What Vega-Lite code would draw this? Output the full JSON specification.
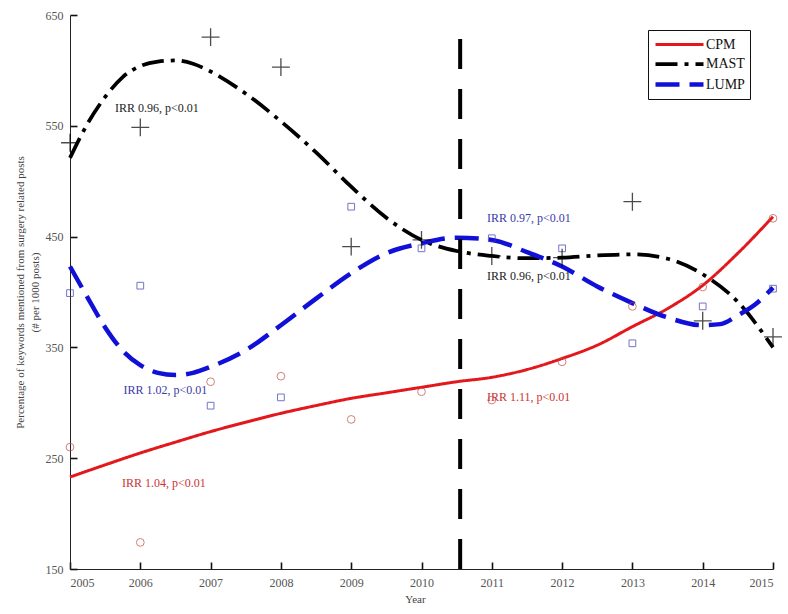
{
  "$schema": "https://vega.github.io/schema/vega-lite/v6.json",
  "width": 703,
  "height": 554,
  "autosize": "none",
  "padding": {"left": 70, "top": 15, "right": 15, "bottom": 45},
  "background": "white",
  "config": {
    "view": {"stroke": null},
    "font": "Liberation Serif",
    "axis": {"grid": false, "ticks": true, "domainColor": "#222", "tickColor": "#111", "tickWidth": 1.6, "labelColor": "#555", "labelFont": "Liberation Serif", "labelFontSize": 12, "titleFont": "Liberation Serif", "titleFontWeight": "normal", "titleFontSize": 11, "titleColor": "#444"}
  },
  "datasets": {
    "fit": [
      {"series": "CPM", "year": 2005, "value": 233}, {"series": "CPM", "year": 2005.5, "value": 244}, {"series": "CPM", "year": 2006, "value": 254.7}, {"series": "CPM", "year": 2006.5, "value": 264.5}, {"series": "CPM", "year": 2007, "value": 274}, {"series": "CPM", "year": 2007.5, "value": 282.5}, {"series": "CPM", "year": 2008, "value": 290.5}, {"series": "CPM", "year": 2008.5, "value": 297.5}, {"series": "CPM", "year": 2009, "value": 304}, {"series": "CPM", "year": 2009.5, "value": 309}, {"series": "CPM", "year": 2010, "value": 314}, {"series": "CPM", "year": 2010.5, "value": 319}, {"series": "CPM", "year": 2011, "value": 323}, {"series": "CPM", "year": 2011.5, "value": 330}, {"series": "CPM", "year": 2012, "value": 340}, {"series": "CPM", "year": 2012.5, "value": 352}, {"series": "CPM", "year": 2013, "value": 368.7}, {"series": "CPM", "year": 2013.5, "value": 385}, {"series": "CPM", "year": 2014, "value": 406}, {"series": "CPM", "year": 2014.5, "value": 435}, {"series": "CPM", "year": 2015, "value": 468},
      {"series": "MAST", "year": 2005, "value": 521}, {"series": "MAST", "year": 2005.25, "value": 552}, {"series": "MAST", "year": 2005.5, "value": 576}, {"series": "MAST", "year": 2005.75, "value": 594}, {"series": "MAST", "year": 2006, "value": 604}, {"series": "MAST", "year": 2006.25, "value": 608}, {"series": "MAST", "year": 2006.5, "value": 609}, {"series": "MAST", "year": 2006.75, "value": 606}, {"series": "MAST", "year": 2007, "value": 599}, {"series": "MAST", "year": 2007.5, "value": 579}, {"series": "MAST", "year": 2008, "value": 554}, {"series": "MAST", "year": 2008.5, "value": 526}, {"series": "MAST", "year": 2009, "value": 495}, {"series": "MAST", "year": 2009.5, "value": 467}, {"series": "MAST", "year": 2010, "value": 447}, {"series": "MAST", "year": 2010.5, "value": 437}, {"series": "MAST", "year": 2011, "value": 432.5}, {"series": "MAST", "year": 2011.5, "value": 430.5}, {"series": "MAST", "year": 2012, "value": 431}, {"series": "MAST", "year": 2012.5, "value": 433}, {"series": "MAST", "year": 2013, "value": 434}, {"series": "MAST", "year": 2013.5, "value": 430}, {"series": "MAST", "year": 2014, "value": 416}, {"series": "MAST", "year": 2014.5, "value": 391}, {"series": "MAST", "year": 2015, "value": 350},
      {"series": "LUMP", "year": 2005, "value": 423}, {"series": "LUMP", "year": 2005.25, "value": 395}, {"series": "LUMP", "year": 2005.5, "value": 368}, {"series": "LUMP", "year": 2005.75, "value": 347}, {"series": "LUMP", "year": 2006, "value": 334}, {"series": "LUMP", "year": 2006.25, "value": 327}, {"series": "LUMP", "year": 2006.5, "value": 325}, {"series": "LUMP", "year": 2006.75, "value": 327}, {"series": "LUMP", "year": 2007, "value": 332.5}, {"series": "LUMP", "year": 2007.5, "value": 347.5}, {"series": "LUMP", "year": 2008, "value": 370}, {"series": "LUMP", "year": 2008.5, "value": 394}, {"series": "LUMP", "year": 2009, "value": 417}, {"series": "LUMP", "year": 2009.5, "value": 435}, {"series": "LUMP", "year": 2010, "value": 444}, {"series": "LUMP", "year": 2010.5, "value": 449}, {"series": "LUMP", "year": 2011, "value": 447}, {"series": "LUMP", "year": 2011.5, "value": 436}, {"series": "LUMP", "year": 2012, "value": 423}, {"series": "LUMP", "year": 2012.5, "value": 405}, {"series": "LUMP", "year": 2013, "value": 390}, {"series": "LUMP", "year": 2013.5, "value": 377}, {"series": "LUMP", "year": 2014, "value": 370}, {"series": "LUMP", "year": 2014.25, "value": 371}, {"series": "LUMP", "year": 2014.5, "value": 379}, {"series": "LUMP", "year": 2014.75, "value": 389}, {"series": "LUMP", "year": 2015, "value": 404}
    ],
    "obs": [
      {"series": "CPM", "year": 2005, "value": 260}, {"series": "CPM", "year": 2006, "value": 174}, {"series": "CPM", "year": 2007, "value": 319}, {"series": "CPM", "year": 2008, "value": 324}, {"series": "CPM", "year": 2009, "value": 285}, {"series": "CPM", "year": 2010, "value": 310}, {"series": "CPM", "year": 2011, "value": 302.5}, {"series": "CPM", "year": 2012, "value": 337}, {"series": "CPM", "year": 2013, "value": 387}, {"series": "CPM", "year": 2014, "value": 404.5}, {"series": "CPM", "year": 2015, "value": 466.5},
      {"series": "MAST", "year": 2005, "value": 534.7}, {"series": "MAST", "year": 2006, "value": 548.6}, {"series": "MAST", "year": 2007, "value": 630}, {"series": "MAST", "year": 2008, "value": 603}, {"series": "MAST", "year": 2009, "value": 441}, {"series": "MAST", "year": 2010, "value": 447}, {"series": "MAST", "year": 2011, "value": 432.5}, {"series": "MAST", "year": 2012, "value": 431}, {"series": "MAST", "year": 2013, "value": 481.5}, {"series": "MAST", "year": 2014, "value": 374}, {"series": "MAST", "year": 2015, "value": 359.5},
      {"series": "LUMP", "year": 2005, "value": 399}, {"series": "LUMP", "year": 2006, "value": 405.7}, {"series": "LUMP", "year": 2007, "value": 297.4}, {"series": "LUMP", "year": 2008, "value": 304.9}, {"series": "LUMP", "year": 2009, "value": 477}, {"series": "LUMP", "year": 2010, "value": 439.4}, {"series": "LUMP", "year": 2011, "value": 448.5}, {"series": "LUMP", "year": 2012, "value": 439.4}, {"series": "LUMP", "year": 2013, "value": 353.7}, {"series": "LUMP", "year": 2014, "value": 387}, {"series": "LUMP", "year": 2015, "value": 403}
    ],
    "notes": [
      {"series": "MAST", "year": 2005.64, "value": 566, "label": "IRR 0.96, p<0.01"},
      {"series": "LUMP", "year": 2010.93, "value": 466.8, "label": "IRR 0.97, p<0.01"},
      {"series": "MAST", "year": 2010.93, "value": 414, "label": "IRR 0.96, p<0.01"},
      {"series": "LUMP", "year": 2005.76, "value": 311.5, "label": "IRR 1.02, p<0.01"},
      {"series": "CPM", "year": 2005.74, "value": 228, "label": "IRR 1.04, p<0.01"},
      {"series": "CPM", "year": 2010.93, "value": 305.5, "label": "IRR 1.11, p<0.01"}
    ],
    "intervention": [
      {"year": 2010.55, "low": 150, "high": 633}
    ]
  },
  "encoding": {
    "x": {"field": "year", "type": "quantitative", "scale": {"domain": [2005, 2015], "nice": false, "zero": false},
      "axis": {"title": "Year", "values": [2005, 2006, 2007, 2008, 2009, 2010, 2011, 2012, 2013, 2014, 2015], "format": "d", "tickSize": -7, "labelPadding": 15, "titlePadding": 5, "titleX": 345}},
    "y": {"field": "value", "type": "quantitative", "scale": {"domain": [150, 650], "nice": false, "zero": false},
      "axis": {"title": ["Percentage of keywords mentioned from surgery related posts", "(# per 1000 posts)"], "values": [150, 250, 350, 450, 550, 650], "tickSize": -7, "labelPadding": 14, "titlePadding": 5, "titleLineHeight": 15}}
  },
  "layer": [
    {
      "data": {"name": "fit"},
      "mark": {"type": "line", "interpolate": "monotone", "strokeCap": "butt"},
      "encoding": {
        "color": {"field": "series", "type": "nominal", "scale": {"domain": ["CPM", "MAST", "LUMP"], "range": ["#e3181c", "#000000", "#1010d8"]},
          "legend": {"title": null, "orient": "none", "legendX": 578, "legendY": 15, "symbolType": "M-3,0H3", "symbolSize": 256, "symbolOffset": 16, "symbolStrokeWidth": 4, "labelFont": "Liberation Serif", "labelFontSize": 14, "labelColor": "#111", "labelOffset": 16, "strokeColor": "#111", "padding": 5, "rowPadding": 2}},
        "strokeDash": {"field": "series", "type": "nominal", "scale": {"domain": ["CPM", "MAST", "LUMP"], "range": [[1, 0], [22, 7, 4, 7], [24, 10]]}},
        "strokeWidth": {"field": "series", "type": "nominal", "scale": {"domain": ["CPM", "MAST", "LUMP"], "range": [3, 4.5, 4.5]}, "legend": null},
        "order": {"field": "year", "type": "quantitative"}
      }
    },
    {
      "data": {"name": "intervention"},
      "mark": {"type": "rule", "strokeDash": [30, 20], "strokeWidth": 4, "color": "black"},
      "encoding": {"x": {"field": "year", "type": "quantitative"}, "y": {"field": "low", "type": "quantitative"}, "y2": {"field": "high"}}
    },
    {
      "data": {"name": "obs"},
      "transform": [{"filter": "datum.series === 'CPM'"}],
      "mark": {"type": "point", "shape": "circle", "filled": false, "size": 60, "strokeWidth": 1, "color": "#c04a45"}
    },
    {
      "data": {"name": "obs"},
      "transform": [{"filter": "datum.series === 'LUMP'"}],
      "mark": {"type": "point", "shape": "square", "filled": false, "size": 45, "strokeWidth": 1, "color": "#3a3ab0"}
    },
    {
      "data": {"name": "obs"},
      "transform": [{"filter": "datum.series === 'MAST'"}],
      "mark": {"type": "point", "shape": "M-1,0L1,0M0,-1L0,1", "filled": false, "size": 320, "strokeWidth": 1.3, "color": "#000000"}
    },
    {
      "data": {"name": "notes"},
      "mark": {"type": "text", "align": "left", "baseline": "middle", "font": "Liberation Serif", "fontSize": 12},
      "encoding": {
        "text": {"field": "label"},
        "color": {"condition": [{"test": "datum.series === 'CPM'", "value": "#cc3333"}, {"test": "datum.series === 'LUMP'", "value": "#3a3aa8"}], "value": "#222222"}
      }
    }
  ]
}
